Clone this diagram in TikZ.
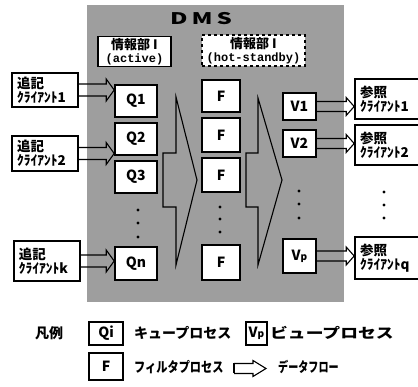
\documentclass[tikz,border=0pt]{standalone}
\usepackage{fontspec}
\usepackage{graphicx}
\setmainfont{Noto Sans CJK JP}
\setmonofont{Liberation Mono}
\usetikzlibrary{calc}

\tikzset{
  procbox/.style={draw, line width=1.6pt, fill=white, inner sep=0pt,
    font=\fontsize{14}{14}\selectfont\bfseries},
  clientbox/.style={draw, line width=1.6pt, fill=white, inner xsep=5pt, inner ysep=0pt,
    align=left, text width=56pt, minimum height=34pt,
    font=\fontsize{13.5}{14}\selectfont\bfseries},
  infobox/.style={draw, line width=1.6pt, fill=white, inner sep=0pt, align=center,
    font=\fontsize{13}{14}\selectfont\bfseries},
  flowline/.style={line width=1.1pt, line join=miter},
  legendtext/.style={anchor=west, inner sep=0pt, font=\fontsize{14}{14}\selectfont\bfseries},
}

% hollow data-flow arrow: from, to, body half, head half, head length
\newcommand{\dataflow}[5]{%
  \draw[flowline] ($(#1)+(0,#3)$) -- ($(#2)+(-#5,#3)$) -- ($(#2)+(-#5,#4)$) -- (#2)
    -- ($(#2)+(-#5,-#4)$) -- ($(#2)+(-#5,-#3)$) -- ($(#1)+(0,-#3)$);}

\begin{document}
\begin{tikzpicture}[x=1pt, y=-1pt]
\useasboundingbox (0,0) rectangle (418,387);

% DMS area
\fill[black!38] (87,5) rectangle (344,302);
\node (dms) at (201,19) {\fontsize{16}{16}\selectfont\bfseries\scalebox{1.5}[1]{D\,M\,S}};
\node[infobox, minimum width=73pt, minimum height=30pt] (act) at (134.5,51.5)
  {情報部 I\\[-1pt]{\ttfamily\fontsize{12}{12}\selectfont (active)}};
\node[infobox, dashed, line width=1.3pt, minimum width=103pt, minimum height=31pt] (stby) at (253.5,50.5)
  {情報部 I\\[-1pt]{\ttfamily\fontsize{12}{12}\selectfont (hot-standby)}};

% queue processes
\foreach \n/\y in {1/101, 2/139, 3/177}
  \node[procbox, minimum width=42pt, minimum height=32pt] (q\n) at (136,\y) {Q\n};
\node[procbox, minimum width=42pt, minimum height=33pt] (qn) at (136,263.5) {Qn};

% filter processes
\foreach \n/\y/\h in {1/96/32, 2/135/34, 3/175/34}
  \node[procbox, minimum width=38pt, minimum height=\h pt] (f\n) at (221,\y) {F};
\node[procbox, minimum width=38pt, minimum height=35pt] (fn) at (221,262.5) {F};

% view processes
\foreach \n/\y in {1/106.5, 2/143.5}
  \node[procbox, minimum width=33pt, minimum height=27pt] (v\n) at (299.5,\y) {V\n};
\node[procbox, minimum width=33pt, minimum height=34pt] (vp) at (299.5,256) {V{\fontsize{10}{10}\selectfont p}};

% clients
\node[clientbox] (wc1) at (45,90) {追記\\ｸﾗｲｱﾝﾄ1};
\node[clientbox, minimum height=35pt] (wc2) at (45,153.5) {追記\\ｸﾗｲｱﾝﾄ2};
\node[clientbox, minimum height=40pt] (wck) at (47,261) {追記\\ｸﾗｲｱﾝﾄk};
\node[clientbox, text width=62pt, minimum height=40pt] (rc1) at (391,99) {参照\\ｸﾗｲｱﾝﾄ1};
\node[clientbox, text width=62pt, minimum height=40pt] (rc2) at (391,145) {参照\\ｸﾗｲｱﾝﾄ2};
\node[clientbox, text width=62pt, minimum height=42pt] (rcq) at (391,258) {参照\\ｸﾗｲｱﾝﾄq};

% data flows
\foreach \c/\t in {wc1/q1, wc2/q2, wck/qn} {
  \coordinate (\c-end) at (\c.east -| \t.west);
  \dataflow{\c.east}{\c-end}{6}{11}{8};
}
\foreach \v/\c in {v1/rc1, v2/rc2, vp/rcq} {
  \coordinate (\v-end) at (\v.east -| \c.west);
  \dataflow{\v.east}{\v-end}{5}{9}{8};
}

% merge shapes
\foreach \xa/\xs/\xt/\ya in {176/163/197/97, 258/246/282/98}
  \draw[flowline] (\xa,\ya) -- (\xt,180) -- (\xa,265) -- (\xa,207) -- (\xs,207)
    -- (\xs,153) -- (\xa,153) -- cycle;

% dots
\foreach \y in {210,223,237} \fill (138,\y) circle (1.6);
\foreach \y in {207,219,232} \fill (220,\y) circle (1.6);
\foreach \y in {191,204,218} \fill (299,\y) circle (1.6);
\foreach \y in {192,205,218} \fill (384,\y) circle (1.6);

% legend
\node[legendtext] (lgd) at (35,333) {凡例};
\node[procbox, minimum width=34pt, minimum height=23pt] (lq) at (106,333.5) {Qi};
\node[legendtext] (lqt) at (134,333) {キュープロセス};
\node[procbox, minimum width=21pt, minimum height=23pt] (lv) at (256.5,333.5) {V{\fontsize{10}{10}\selectfont p}};
\node[legendtext] (lvt) at (270,333) {\scalebox{1.27}[1]{ビュープロセス}};
\node[procbox, minimum width=34pt, minimum height=27pt] (lf) at (106,366.5) {F};
\node[legendtext] (lft) at (134,367) {\scalebox{0.8}[1]{フィルタプロセス}};
\coordinate (la) at (234,368.5);
\coordinate (lb) at (266,368.5);
\dataflow{la}{lb}{5}{8}{13};
\draw[flowline] ($(la)+(0,5)$) -- ($(la)+(0,-5)$);
\node[legendtext] (ldt) at (278,367) {\scalebox{0.72}[1]{データフロー}};
\end{tikzpicture}
\end{document}
